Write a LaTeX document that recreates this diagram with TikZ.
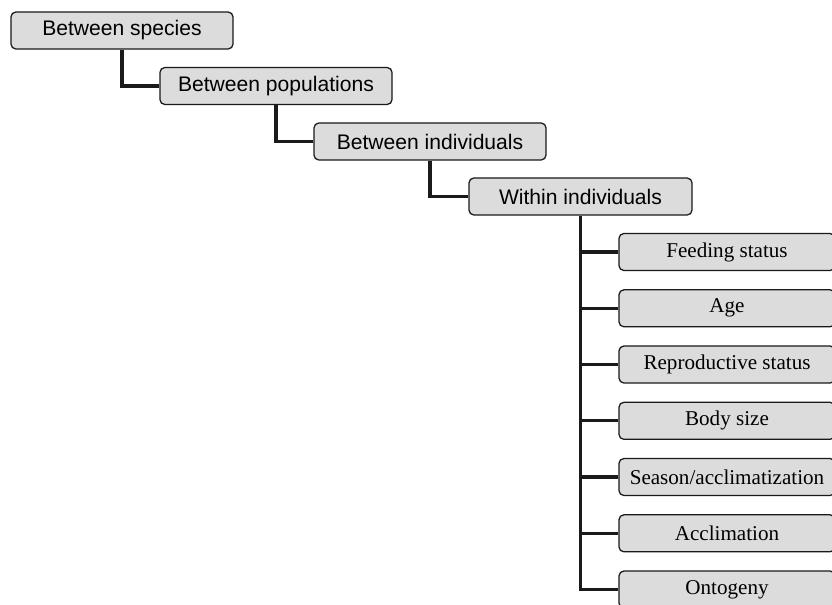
\documentclass[tikz,border=0pt]{standalone}
\usepackage{fontspec}
\setmainfont{Liberation Serif}
\setsansfont{Liberation Sans}
\usepackage{tikz}
\usetikzlibrary{positioning}
\definecolor{boxgray}{HTML}{DCDCDC}
\definecolor{linkblack}{HTML}{1A1A1A}
\tikzset{
  levelbox/.style={
    rectangle, rounded corners=3.5pt, draw=linkblack, fill=boxgray,
    line width=0.9pt, minimum width=#1, minimum height=0.925cm,
    font=\fontsize{15}{18}\selectfont\sffamily, align=center, inner sep=2pt
  },
  levelbox/.default=5.8cm,
  factorbox/.style={
    levelbox=5.4cm, font=\fontsize{15}{18}\selectfont\rmfamily
  },
  link/.style={
    draw=linkblack, line width=2.4pt
  },
}

\begin{document}
\begin{tikzpicture}[x=0.025cm, y=-0.025cm]
  \clip (0,0) rectangle (832,604);

  % Levels of variation
  \node[levelbox=5.55cm] (species) at (122,30.5) {Between species};
  \node[levelbox=5.8cm] (pops) at (276,86) {Between populations};
  \node[levelbox=5.8cm] (indiv) at (430,141.5) {Between individuals};
  \node[levelbox=5.575cm] (within) at (580.5,196.5) {Within individuals};

  % Factors within individuals
  \node[factorbox] (feed) at (727,252) {Feeding status};
  \node[factorbox] (age) at (727,308.3) {Age};
  \node[factorbox] (repro) at (727,364.5) {Reproductive status};
  \node[factorbox] (size) at (727,420.8) {Body size};
  \node[factorbox] (season) at (727,477) {Season/acclimatization};
  \node[factorbox] (acclim) at (727,533.3) {Acclimation};
  \node[factorbox] (onto) at (727,589.5) {Ontogeny};

  % Connectors
  \draw[link] (species.south) |- (pops.west);
  \draw[link] (pops.south) |- (indiv.west);
  \draw[link] (indiv.south) |- (within.west);
  \draw[link] (within.south) |- (onto.west);
  \draw[link] (within.south |- feed.west) -- (feed.west);
  \draw[link] (within.south |- age.west) -- (age.west);
  \draw[link] (within.south |- repro.west) -- (repro.west);
  \draw[link] (within.south |- size.west) -- (size.west);
  \draw[link] (within.south |- season.west) -- (season.west);
  \draw[link] (within.south |- acclim.west) -- (acclim.west);
\end{tikzpicture}
\end{document}
